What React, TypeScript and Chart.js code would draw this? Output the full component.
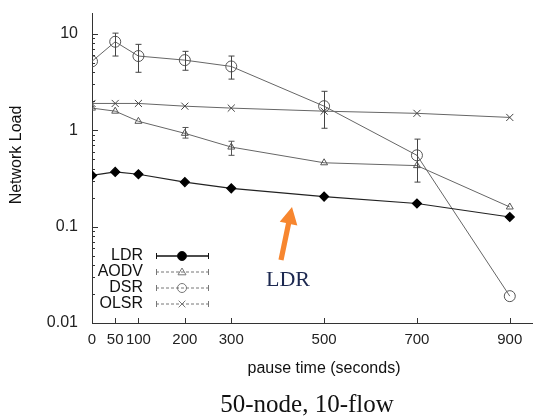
import React, { useEffect, useRef } from "react";
import { Chart, registerables } from "chart.js";

Chart.register(...registerables);

// ---- data ----
const pauseTimes = [0, 50, 100, 200, 300, 500, 700, 900];
const ldr = [0.34, 0.37, 0.35, 0.29, 0.25, 0.205, 0.174, 0.126];
const aodv = [1.7, 1.58, 1.24, 0.93, 0.67, 0.46, 0.43, 0.16];
const dsr = [5.2, 8.3, 5.9, 5.35, 4.6, 1.78, 0.55, 0.019];
const olsr = [1.9, 1.9, 1.9, 1.78, 1.7, 1.58, 1.5, 1.36];

const dsrLo = [null, 5.9, 4.0, 4.2, 3.4, 1.05, 0.29, null];
const dsrHi = [null, 10.2, 7.8, 6.6, 5.9, 2.54, 0.81, null];
const aodvLo = [null, null, null, 0.83, 0.55, null, null, null];
const aodvHi = [null, null, null, 1.07, 0.77, null, null, null];

const xTickValues = [0, 50, 100, 200, 300, 500, 700, 900];
const yTickValues = [0.01, 0.1, 1, 10];
const seriesNames = ["LDR", "AODV", "DSR", "OLSR"];

const yTitle = "Network Load";
const xTitle = "pause time (seconds)";
const caption = "50-node, 10-flow";
const annotationText = "LDR";

const SANS = "'Liberation Sans', Arial, sans-serif";
const SERIF = "'Liberation Serif', 'Times New Roman', serif";

export default function App() {
  const ref = useRef<HTMLCanvasElement>(null);

  useEffect(() => {
    document.body.style.margin = "0";
    const canvas = ref.current;
    if (!canvas) return;

    const errorSets = [
      { lo: aodvLo, hi: aodvHi, color: "#555" },
      { lo: dsrLo, hi: dsrHi, color: "#444" },
    ];

    const legendStyles = [
      { point: "circle", color: "#111", width: 1.3, dash: [] as number[], fill: "#000", r: 4.5 },
      { point: "triangle", color: "#777", width: 1, dash: [3, 2], fill: "rgba(0,0,0,0)", r: 4 },
      { point: "circle", color: "#777", width: 1, dash: [3, 2], fill: "rgba(0,0,0,0)", r: 4.5 },
      { point: "crossRot", color: "#777", width: 1, dash: [3, 2], fill: "rgba(0,0,0,0)", r: 4.5 },
    ];

    function drawMarker(ctx: CanvasRenderingContext2D, style: string, x: number, y: number, r: number, fill: string, stroke: string) {
      ctx.save();
      ctx.fillStyle = fill;
      ctx.strokeStyle = stroke;
      ctx.lineWidth = 1;
      ctx.beginPath();
      if (style === "circle") {
        ctx.arc(x, y, r, 0, Math.PI * 2);
        ctx.fill();
        ctx.stroke();
      } else if (style === "triangle") {
        ctx.moveTo(x, y - r);
        ctx.lineTo(x + r, y + r * 0.7);
        ctx.lineTo(x - r, y + r * 0.7);
        ctx.closePath();
        ctx.stroke();
      } else {
        const k = r * 0.75;
        ctx.moveTo(x - k, y - k);
        ctx.lineTo(x + k, y + k);
        ctx.moveTo(x + k, y - k);
        ctx.lineTo(x - k, y + k);
        ctx.stroke();
      }
      ctx.restore();
    }

    const decor = {
      id: "decor",
      afterDatasetsDraw(chart: any) {
        const ctx = chart.ctx;
        const xs = chart.scales.x;
        const ys = chart.scales.y;
        ctx.save();
        for (const e of errorSets) {
          ctx.strokeStyle = e.color;
          ctx.lineWidth = 1;
          pauseTimes.forEach((t, i) => {
            const lo = e.lo[i];
            const hi = e.hi[i];
            if (lo == null || hi == null) return;
            const px = Math.round(xs.getPixelForValue(t)) + 0.5;
            const y1 = ys.getPixelForValue(lo);
            const y2 = ys.getPixelForValue(hi);
            ctx.beginPath();
            ctx.moveTo(px, y1);
            ctx.lineTo(px, y2);
            ctx.moveTo(px - 3, y1);
            ctx.lineTo(px + 3, y1);
            ctx.moveTo(px - 3, y2);
            ctx.lineTo(px + 3, y2);
            ctx.stroke();
          });
        }
        ctx.restore();
      },
      afterDraw(chart: any) {
        const ctx = chart.ctx;
        const xs = chart.scales.x;
        const ys = chart.scales.y;
        const area = chart.chartArea;
        ctx.save();
        // inward tick marks
        ctx.strokeStyle = "#333";
        ctx.lineWidth = 1;
        ctx.beginPath();
        for (const v of xTickValues) {
          const px = Math.round(xs.getPixelForValue(v)) + 0.5;
          ctx.moveTo(px, area.bottom);
          ctx.lineTo(px, area.bottom - 5);
        }
        for (let d = 0.01; d < 20; d *= 10) {
          for (let m = 1; m <= 9; m++) {
            const v = d * m;
            if (v > ys.max) break;
            const py = Math.round(ys.getPixelForValue(v)) + 0.5;
            ctx.moveTo(area.left, py);
            ctx.lineTo(area.left + (m === 1 ? 6 : 3), py);
          }
        }
        ctx.stroke();

        // axis titles
        ctx.fillStyle = "#111";
        ctx.font = `16px ${SANS}`;
        ctx.textAlign = "center";
        ctx.textBaseline = "middle";
        ctx.fillText(xTitle, 324, 369);
        ctx.save();
        ctx.translate(17, 155);
        ctx.rotate(-Math.PI / 2);
        ctx.fillText(yTitle, 0, 0);
        ctx.restore();

        // caption
        ctx.font = `25px ${SERIF}`;
        ctx.textBaseline = "alphabetic";
        ctx.fillStyle = "#111";
        ctx.fillText(caption, 307, 412);

        // legend
        ctx.font = `16px ${SANS}`;
        ctx.textAlign = "right";
        ctx.textBaseline = "middle";
        seriesNames.forEach((name, i) => {
          const y = 256 + i * 16;
          const st = legendStyles[i];
          ctx.fillStyle = "#111";
          ctx.fillText(name, 143, y);
          ctx.strokeStyle = st.color;
          ctx.lineWidth = st.width;
          ctx.setLineDash(st.dash);
          ctx.beginPath();
          ctx.moveTo(156, y);
          ctx.lineTo(208, y);
          ctx.stroke();
          ctx.setLineDash([]);
          ctx.lineWidth = 1;
          ctx.beginPath();
          ctx.moveTo(156.5, y - 3);
          ctx.lineTo(156.5, y + 3);
          ctx.moveTo(208.5, y - 3);
          ctx.lineTo(208.5, y + 3);
          ctx.stroke();
          drawMarker(ctx, st.point, 182, y, st.r, st.fill, st.color);
        });

        // arrow annotation
        const tipX = 292, tipY = 207, tailX = 281, tailY = 260;
        const dx = tipX - tailX, dy = tipY - tailY;
        const len = Math.hypot(dx, dy);
        const ux = dx / len, uy = dy / len;
        const nx = -uy, ny = ux;
        const headLen = 17, headW = 9, shaftW = 2.6;
        const bx = tipX - ux * headLen, by = tipY - uy * headLen;
        ctx.fillStyle = "#f7862f";
        ctx.beginPath();
        ctx.moveTo(tailX + nx * shaftW, tailY + ny * shaftW);
        ctx.lineTo(bx + nx * shaftW, by + ny * shaftW);
        ctx.lineTo(bx + nx * headW, by + ny * headW);
        ctx.lineTo(tipX, tipY);
        ctx.lineTo(bx - nx * headW, by - ny * headW);
        ctx.lineTo(bx - nx * shaftW, by - ny * shaftW);
        ctx.lineTo(tailX - nx * shaftW, tailY - ny * shaftW);
        ctx.closePath();
        ctx.fill();

        ctx.font = `22px ${SERIF}`;
        ctx.fillStyle = "#1c2850";
        ctx.textAlign = "center";
        ctx.textBaseline = "alphabetic";
        ctx.fillText(annotationText, 288, 286);
        ctx.restore();
      },
    };

    const mk = (vals: number[]) => pauseTimes.map((t, i) => ({ x: t, y: vals[i] }));

    const chart = new Chart(canvas, {
      type: "line",
      data: {
        datasets: [
          {
            label: seriesNames[0],
            data: mk(ldr),
            borderColor: "#222",
            borderWidth: 1.2,
            pointStyle: "rectRot",
            pointRadius: 4.5,
            pointBackgroundColor: "#000",
            pointBorderColor: "#000",
          },
          {
            label: seriesNames[1],
            data: mk(aodv),
            borderColor: "#666",
            borderWidth: 1,
            pointStyle: "triangle",
            pointRadius: 4,
            pointBackgroundColor: "rgba(255,255,255,0)",
            pointBorderColor: "#555",
          },
          {
            label: seriesNames[2],
            data: mk(dsr),
            borderColor: "#666",
            borderWidth: 1,
            pointStyle: "circle",
            pointRadius: 5.5,
            pointBackgroundColor: "rgba(255,255,255,0)",
            pointBorderColor: "#555",
          },
          {
            label: seriesNames[3],
            data: mk(olsr),
            borderColor: "#666",
            borderWidth: 1,
            pointStyle: "crossRot",
            pointRadius: 5,
            pointBorderColor: "#444",
          },
        ],
      },
      options: {
        responsive: false,
        animation: false,
        devicePixelRatio: 1,
        layout: { autoPadding: false, padding: { top: 13, left: 0, right: 0, bottom: 0 } },
        plugins: { legend: { display: false }, tooltip: { enabled: false } },
        elements: { line: { tension: 0 } },
        scales: {
          x: {
            type: "linear",
            min: 0,
            max: 950,
            afterFit: (s: any) => {
              s.height = 96;
              s.paddingLeft = 0;
              s.paddingRight = 0;
            },
            afterBuildTicks: (s: any) => {
              s.ticks = xTickValues.map((v) => ({ value: v }));
            },
            grid: { display: false, drawTicks: false },
            border: { display: true, color: "#333", width: 1 },
            ticks: {
              autoSkip: false,
              maxRotation: 0,
              padding: 8,
              color: "#222",
              font: { family: SANS, size: 15 },
              callback: (v: any) => String(v),
            },
          },
          y: {
            type: "logarithmic",
            min: 0.01,
            max: 16.5,
            afterFit: (s: any) => {
              s.width = 92;
              s.paddingTop = 0;
              s.paddingBottom = 0;
            },
            afterBuildTicks: (s: any) => {
              s.ticks = yTickValues.map((v) => ({ value: v }));
            },
            grid: { display: false, drawTicks: false },
            border: { display: true, color: "#333", width: 1 },
            ticks: {
              padding: 14,
              color: "#222",
              font: { family: SANS, size: 16 },
              callback: (v: any) => String(v),
            },
          },
        },
      },
      plugins: [decor],
    } as any);

    return () => chart.destroy();
  }, []);

  return <canvas ref={ref} width={533} height={419} style={{ display: "block" }} />;
}
